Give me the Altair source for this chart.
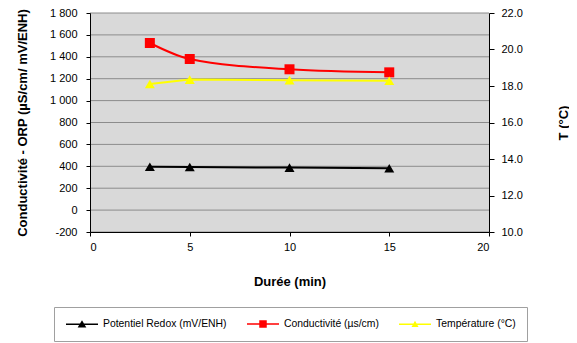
import altair as alt
import pandas as pd

# ---- data ----
duree = [3, 5, 10, 15]
redox = [396, 394, 388, 382]
conductivite = [1526, 1380, 1286, 1258]
temperature = [18.11, 18.35, 18.32, 18.29]

series_names = ["Potentiel Redox (mV/ENH)", "Conductivité (µs/cm)", "Température (°C)"]
series_colors = ["#000000", "#ff0000", "#ffff00"]

x_ticks = [0, 5, 10, 15, 20]
left_ticks = [-200, 0, 200, 400, 600, 800, 1000, 1200, 1400, 1600, 1800]
right_ticks = [10, 12, 14, 16, 18, 20, 22]

FONT = "Liberation Sans"
GRID = "#8c8c8c"
BG = "#d9d9d9"

df_redox = pd.DataFrame({"duree": duree, "v": redox})
df_cond = pd.DataFrame({"duree": duree, "v": conductivite})
df_temp = pd.DataFrame({"duree": duree, "v": temperature})
df_grid = pd.DataFrame({"v": left_ticks})

x_scale = alt.Scale(domain=[0, 20], nice=False, zero=False)
yl_scale = alt.Scale(domain=[-200, 1800], nice=False, zero=False)
yr_scale = alt.Scale(domain=[10, 22], nice=False, zero=False)

x_axis = alt.Axis(
    values=x_ticks, title="Durée (min)", grid=False, format="d",
    labelPadding=5, titleX=199.5, titleY=49.5, titleBaseline="middle",
    titleAlign="center", zindex=1,
)
yl_axis = alt.Axis(
    values=left_ticks,
    title="Conductivité - ORP (µS/cm/ mV/ENH)",
    grid=False,
    labelPadding=9,
    labelExpr="(datum.value < 0 ? '-' : '') + replace(format(abs(datum.value), ','), ',', ' ')",
    titleX=-68, titleY=109.5, titleAngle=270, titleBaseline="middle", titleAlign="center",
    zindex=1,
)
yr_axis = alt.Axis(
    values=right_ticks, orient="right", title="T (°C)", grid=False,
    format=".1f", labelPadding=7, tickSize=5,
    titleX=74, titleY=109.5, titleAngle=270, titleBaseline="middle", titleAlign="center",
    zindex=1,
)

x_enc = alt.X("duree:Q", scale=x_scale, axis=x_axis)
y_left = alt.Y("v:Q", scale=yl_scale, axis=yl_axis)
y_right = alt.Y("v:Q", scale=yr_scale, axis=yr_axis)

# plot-area background spanning the scale domains
background = alt.Chart(pd.DataFrame({"k": [0]})).mark_rect(color=BG).encode(
    x=alt.X(datum=0, type="quantitative", scale=x_scale, axis=x_axis),
    x2=alt.X2(datum=20),
    y=alt.Y(datum=-200, type="quantitative", scale=yl_scale, axis=yl_axis),
    y2=alt.Y2(datum=1800),
)

gridlines = alt.Chart(df_grid).mark_rule(color=GRID, strokeWidth=1).encode(y=y_left)


def series_layers(df, color, shape, y_enc, interp="linear"):
    line = alt.Chart(df).mark_line(color=color, strokeWidth=2, interpolate=interp).encode(x=x_enc, y=y_enc)
    pts = alt.Chart(df).mark_point(filled=True, shape=shape, size=100, color=color, opacity=1).encode(x=x_enc, y=y_enc)
    return [line, pts]


left = alt.layer(
    background,
    gridlines,
    *series_layers(df_redox, series_colors[0], "triangle-up", y_left),
    *series_layers(df_cond, series_colors[1], "square", y_left, interp="monotone"),
)
right = alt.layer(*series_layers(df_temp, series_colors[2], "triangle-up", y_right))

# legend symbols: a short line with the marker in its middle (scale 5 px per unit)
legend_paths = [
    "M-1,0H5.4M1.6,0.5L2.2,-0.5L2.8,0.5Z",
    "M-1,0H5.4M1.6,-0.6H2.8V0.6H1.6Z",
    "M-1,0H5.4M1.75,0.4L2.2,-0.4L2.65,0.4Z",
]

leg = alt.Chart(pd.DataFrame({"serie": series_names})).transform_filter("false").mark_point(
    filled=True, opacity=1, strokeWidth=1.5
).encode(
    fill=alt.Fill("serie:N", scale=alt.Scale(domain=series_names, range=series_colors), title=None),
    stroke=alt.Stroke("serie:N", scale=alt.Scale(domain=series_names, range=series_colors), title=None),
    shape=alt.Shape("serie:N", scale=alt.Scale(domain=series_names, range=legend_paths), title=None),
)

chart = alt.layer(left, right, leg).resolve_scale(y="independent").properties(
    width=399,
    height=219,
    padding={"left": 82, "top": 5, "right": 80, "bottom": 110},
    autosize=alt.AutoSizeParams(type="none"),
).configure_view(
    stroke=None
).configure_axis(
    labelFont=FONT, labelFontSize=11, labelColor="black",
    titleFont=FONT, titleFontSize=13, titleFontWeight="bold", titleColor="black",
    domainColor="black", domainWidth=1, tickColor="black", tickSize=4,
).configure_legend(
    orient="none", legendX=-36, legendY=294, direction="horizontal",
    padding=11, strokeColor="#a0a0a0", fillColor="white",
    labelFont=FONT, labelFontSize=10.4, labelColor="black",
    symbolSize=100, symbolStrokeWidth=1.5, symbolOpacity=1,
    columnPadding=17, labelOffset=26,
)

chart.save("out.html", embed_options={"renderer": "svg", "actions": False})
